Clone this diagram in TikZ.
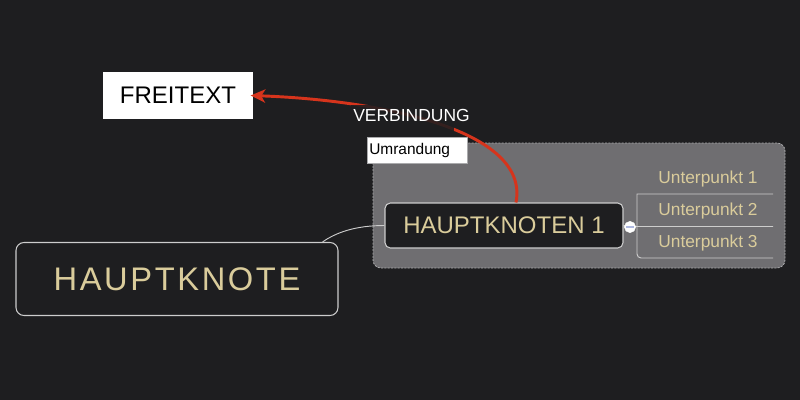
\documentclass[tikz,border=0pt]{standalone}
\usepackage{fontspec}
\setmainfont{Liberation Sans}
\usetikzlibrary{arrows.meta}
\definecolor{bgc}{RGB}{30,30,32}
\definecolor{boundc}{RGB}{111,110,113}
\definecolor{bdash}{RGB}{170,170,172}
\definecolor{beige}{RGB}{218,204,155}
\definecolor{redc}{RGB}{214,52,28}
\definecolor{linec}{RGB}{205,205,205}
\definecolor{minusc}{RGB}{175,185,225}
\tikzset{
  topic/.style={draw=linec, line width=0.8pt, fill=bgc, text=beige, inner sep=0pt, align=center},
  whitebox/.style={fill=white, text=black, inner sep=0pt},
  subtopic/.style={text=beige, inner sep=0pt, font=\fontsize{13pt}{15pt}\selectfont},
  conn/.style={draw=linec, line width=0.7pt},
  relation/.style={draw=redc, line width=2.2pt, -{Stealth[length=11pt,width=10pt,inset=3pt]}},
}
\begin{document}
\begin{tikzpicture}[x=0.75pt,y=-0.75pt]
\fill[bgc] (0,0) rectangle (800,400);
\useasboundingbox (0,0) rectangle (800,400);

% boundary
\node[draw=bdash, fill=boundc, rounded corners=6pt, dash pattern=on 1.5pt off 1pt, line width=0.6pt,
      minimum width=309pt, minimum height=93.75pt, inner sep=0pt] (bd) at (579,205.5) {};

% main topic
\node[topic, rounded corners=6pt, minimum width=241.5pt, minimum height=54.75pt,
      font=\fontsize{24.5pt}{28pt}\selectfont\addfontfeatures{LetterSpace=8}] (hk) at (177,279) {HAUPTKNOTE};

% sub topic
\node[topic, rounded corners=4pt, minimum width=178.5pt, minimum height=33.75pt,
      font=\fontsize{18pt}{22pt}\selectfont] (h1) at (504,225.5) {HAUPTKNOTEN 1};

% connector main -> sub
\draw[conn] ([xshift=-12pt]hk.north east) .. controls +(10pt,7pt) and +(-22pt,0pt) .. (h1.west);

% boundary label
\node[whitebox, draw=bdash, line width=0.4pt, minimum width=74.25pt, minimum height=19.5pt, anchor=west,
      font=\fontsize{11.6pt}{14pt}\selectfont, text width=72pt, align=left, inner xsep=1.5pt] (ul) at (367,150) {Umrandung};

% free text
\node[whitebox, minimum width=112.5pt, minimum height=35.25pt,
      font=\fontsize{18pt}{22pt}\selectfont] (ft) at (178,95.5) {FREITEXT};

% subtopics
\node[subtopic] (u1) at (708,179.5) {Unterpunkt 1};
\node[subtopic] (u2) at (708,211.5) {Unterpunkt 2};
\node[subtopic] (u3) at (708,243.5) {Unterpunkt 3};

\coordinate (b1) at (773,194);
\coordinate (b2) at (773,226.5);
\coordinate (b3) at (773,258);
\coordinate (bx) at (637,226.5);

\draw[conn] (b1) -- (637,194) [rounded corners=3pt] -- (637,258) -- (b3);
\draw[conn] (h1.east) -- (bx) -- (b2);

% collapse button
\node[circle, fill=white, draw=white, line width=0.3pt, minimum size=8.5pt, inner sep=0pt] (cc) at (630,227) {};
\draw[minusc, line width=1.1pt] ([xshift=-2.8pt]cc.center) -- ([xshift=2.8pt]cc.center);

% relation
\draw[relation] ([xshift=9pt]h1.north) .. controls (530,130) and (380,100) .. ([xshift=-2pt]ft.east);
\node[fill=bgc, fill opacity=0.88, inner sep=0pt, minimum width=77pt, minimum height=19.5pt] (vbmask) at (402.5,118) {};
\node[text=white, inner sep=0pt, font=\fontsize{13.1pt}{15pt}\selectfont] (vb) at (411.5,115) {VERBINDUNG};
\end{tikzpicture}
\end{document}
